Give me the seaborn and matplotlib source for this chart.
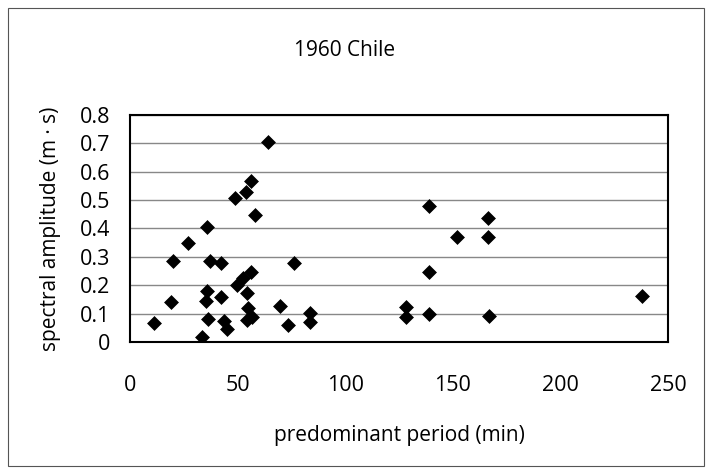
import matplotlib
matplotlib.use("Agg")
import matplotlib.pyplot as plt
import seaborn as sns
import pandas as pd
from matplotlib.patches import Rectangle

period = [11.2, 19.1, 20.0, 27.0, 35.8, 48.8, 37.2, 42.3, 35.8, 35.3, 42.3, 36.2,
          43.7, 45.1, 33.5, 49.7, 64.1, 56.2, 53.9, 58.1, 76.2, 56.2, 52.5, 54.4,
          69.7, 54.8, 54.4, 56.7, 73.4, 83.6, 83.6, 139.0, 166.4, 152.0, 166.4,
          139.0, 128.3, 128.3, 139.0, 166.8, 238.0]
amplitude = [0.067, 0.141, 0.285, 0.349, 0.405, 0.507, 0.285, 0.278, 0.180, 0.144,
             0.159, 0.081, 0.074, 0.046, 0.018, 0.200, 0.705, 0.567, 0.529, 0.448,
             0.278, 0.247, 0.226, 0.173, 0.127, 0.120, 0.078, 0.088, 0.060, 0.102,
             0.070, 0.479, 0.437, 0.370, 0.370, 0.247, 0.123, 0.088, 0.099, 0.092,
             0.162]

df = pd.DataFrame({"period": period, "amplitude": amplitude})

sns.set_theme(style="white")
plt.rcParams["font.family"] = ["Open Sans", "DejaVu Sans"]
plt.rcParams["text.color"] = "black"
plt.rcParams["axes.labelcolor"] = "black"
plt.rcParams["xtick.color"] = "black"
plt.rcParams["ytick.color"] = "black"

fig = plt.figure(figsize=(7.12, 4.72), dpi=100)
ax = fig.add_axes([130/712, 1-342/472, (668-130)/712, (342-115)/472])

sns.scatterplot(data=df, x="period", y="amplitude", ax=ax, marker="D",
                color="black", s=50, edgecolor="black", linewidth=0.5, zorder=3)

ax.set_xlim(0, 250)
ax.set_ylim(0, 0.8)
ax.set_xticks([0, 50, 100, 150, 200, 250])
ax.set_yticks([i/10 for i in range(9)])
ax.set_yticklabels(["0"] + [f"{i/10:.1f}" for i in range(1, 9)])
ax.yaxis.grid(True, color="#888888", linewidth=1)
ax.xaxis.grid(False)
ax.tick_params(axis="x", direction="in", length=5, width=1, color="black",
               labelsize=15.5, pad=24)
ax.tick_params(axis="y", length=0, labelsize=15.5, pad=14)
for sp in ax.spines.values():
    sp.set_color("black")
    sp.set_linewidth(1.5)
ax.set_xlabel("predominant period (min)", fontsize=15, labelpad=21)
ax.set_ylabel("spectral amplitude (m · s)", fontsize=15, labelpad=14)

fig.text(345/712, 1-50/472, "1960 Chile", ha="center", va="center", fontsize=15)
fig.patches.append(Rectangle((8/712, 6/472), 696/712, 458/472, transform=fig.transFigure,
                             fill=False, edgecolor="#555555", linewidth=0.8))

fig.savefig("out.png", dpi=100)
